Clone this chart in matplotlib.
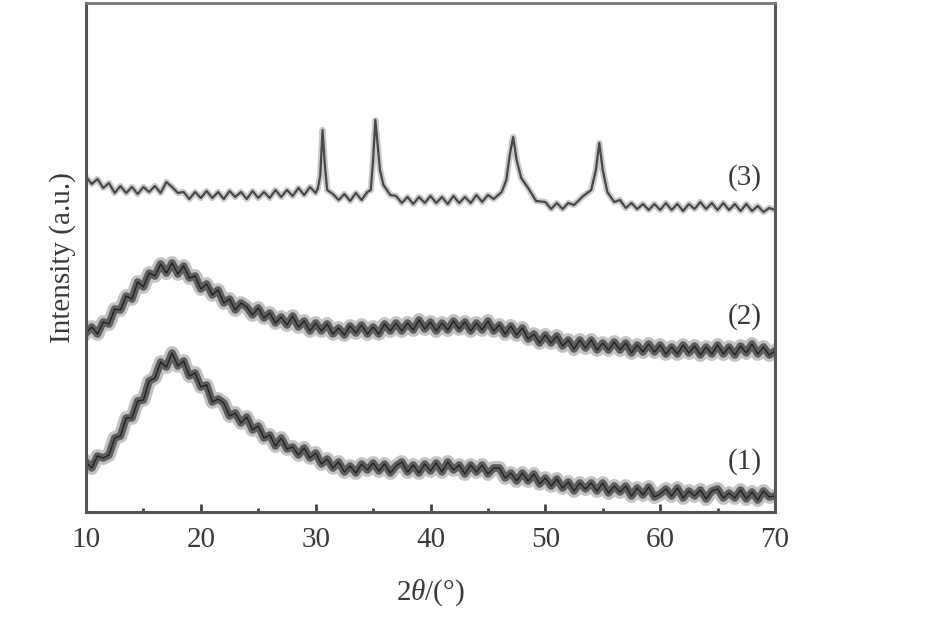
import numpy as np
import matplotlib
matplotlib.use("Agg")
import matplotlib.pyplot as plt

plt.rcParams['font.family'] = ['Liberation Serif', 'DejaVu Serif']
plt.rcParams['mathtext.fontset'] = 'custom'
plt.rcParams['mathtext.rm'] = 'Liberation Serif'
plt.rcParams['mathtext.it'] = 'Liberation Serif:italic'

# ---- data (intensity in arbitrary units) ----
two_theta = np.arange(10.0, 70.01, 0.5)  # scan positions for patterns (1) and (2)

pattern1 = [50, 44, 56, 54, 57, 74, 76, 94, 94, 111,
            112, 131, 134, 150, 145, 159, 146, 151, 136, 139,
            125, 127, 110, 113, 109, 96, 99, 89, 95, 82,
            86, 74, 77, 66, 74, 63, 65, 57, 64, 54,
            59, 48, 53, 44, 50, 40, 46, 39, 48, 42,
            49, 41, 48, 39, 46, 50, 40, 47, 39, 48,
            41, 49, 40, 50, 42, 47, 38, 47, 40, 47,
            38, 44, 44, 34, 39, 31, 39, 31, 38, 28,
            34, 26, 33, 24, 30, 21, 29, 23, 29, 21,
            29, 19, 26, 20, 26, 16, 24, 17, 25, 15,
            18, 23, 16, 24, 14, 21, 16, 22, 13, 21,
            23, 14, 19, 14, 22, 13, 20, 12, 21, 15,
            16]

pattern2 = [179, 185, 178, 190, 188, 203, 202, 216, 213, 230,
            225, 239, 236, 248, 239, 249, 238, 246, 234, 236,
            223, 228, 217, 222, 209, 213, 202, 209, 205, 197,
            204, 194, 199, 189, 195, 187, 196, 185, 191, 181,
            189, 181, 188, 178, 184, 177, 186, 179, 187, 178,
            185, 178, 188, 181, 189, 181, 189, 182, 192, 183,
            190, 181, 189, 182, 191, 183, 190, 181, 189, 182,
            191, 181, 187, 178, 186, 177, 184, 173, 178, 169,
            177, 169, 176, 166, 172, 163, 172, 164, 172, 162,
            169, 162, 170, 162, 169, 159, 167, 160, 168, 160,
            167, 158, 165, 158, 167, 159, 166, 157, 165, 158,
            167, 158, 165, 157, 166, 159, 168, 158, 165, 157,
            161]

two_theta3 = [10.0, 10.5, 11.0, 11.5, 12.0, 12.5, 13.0, 13.5, 14.0, 14.5,
              15.0, 15.5, 16.0, 16.5, 17.0, 17.5, 18.0, 18.5, 19.0, 19.5,
              20.0, 20.5, 21.0, 21.5, 22.0, 22.5, 23.0, 23.5, 24.0, 24.5,
              25.0, 25.5, 26.0, 26.5, 27.0, 27.5, 28.0, 28.5, 29.0, 29.5,
              30.0, 30.2, 30.4, 30.6, 30.8, 31.0, 31.5, 32.0, 32.5, 33.0,
              33.5, 34.0, 34.5, 34.8, 35.0, 35.2, 35.4, 35.6, 35.9, 36.5,
              37.0, 37.5, 38.0, 38.5, 39.0, 39.5, 40.0, 40.5, 41.0, 41.5,
              42.0, 42.5, 43.0, 43.5, 44.0, 44.5, 45.0, 45.5, 46.2, 46.6,
              46.9, 47.2, 47.5, 47.9, 48.5, 49.2, 50.0, 50.5, 51.0, 51.5,
              52.0, 52.5, 53.3, 54.0, 54.4, 54.7, 55.0, 55.4, 56.0, 56.5,
              57.0, 57.5, 58.0, 58.5, 59.0, 59.5, 60.0, 60.5, 61.0, 61.5,
              62.0, 62.5, 63.0, 63.5, 64.0, 64.5, 65.0, 65.5, 66.0, 66.5,
              67.0, 67.5, 68.0, 68.5, 69.0, 69.5, 70.0]

pattern3 = [335, 328, 333, 324, 329, 319, 326, 319, 325, 318,
            325, 320, 326, 319, 330, 325, 319, 320, 313, 320,
            314, 321, 314, 320, 313, 321, 315, 320, 313, 321,
            314, 320, 314, 322, 315, 322, 316, 324, 317, 325,
            319, 324, 337, 382, 347, 322, 318, 312, 318, 311,
            319, 312, 320, 322, 352, 392, 367, 342, 327, 317,
            316, 309, 315, 308, 315, 309, 316, 309, 315, 308,
            316, 309, 315, 309, 317, 310, 317, 313, 320, 332,
            357, 375, 352, 334, 324, 311, 310, 303, 309, 303,
            309, 307, 316, 322, 342, 369, 342, 320, 310, 312,
            304, 309, 303, 308, 302, 308, 302, 309, 302, 308,
            301, 308, 303, 310, 303, 309, 302, 309, 302, 308,
            301, 308, 301, 306, 300, 304, 302]

curve_labels = ["(1)", "(2)", "(3)"]
label_x = [67.4, 67.4, 67.4]
label_y = [50, 195, 334]

xticks = [10, 20, 30, 40, 50, 60, 70]
xtick_labels = ["10", "20", "30", "40", "50", "60", "70"]

# ---- figure ----
W, H = 935, 618
fig = plt.figure(figsize=(W / 100, H / 100), dpi=100)
ax = fig.add_axes([86 / W, (H - 512) / H, (775 - 86) / W, (512 - 3) / H])

for p in (pattern1, pattern2):
    ax.plot(two_theta, p, color='#555555', lw=10.0, alpha=0.35, solid_joinstyle='round')
    ax.plot(two_theta, p, color='#333333', lw=5.5, alpha=0.7, solid_joinstyle='round')
    ax.plot(two_theta, p, color='#222222', lw=1.0)
ax.plot(two_theta3, pattern3, color='#666666', lw=4.5, alpha=0.35)
ax.plot(two_theta3, pattern3, color='#3a3a3a', lw=1.6, alpha=0.9)

for t, lx, ly in zip(curve_labels, label_x, label_y):
    ax.text(lx, ly, t, fontsize=21, color='#3a3a3a', ha='center', va='center')

ax.set_xlim(10, 70)
ax.set_ylim(0, 509)
ax.set_xticks(xticks)
ax.set_xticklabels(xtick_labels)
ax.set_xticks([15, 25, 35, 45, 55, 65], minor=True)
ax.set_yticks([])
ax.tick_params(axis='x', which='major', direction='in', length=6, width=2,
               color='#444444', labelsize=21, labelcolor='#3a3a3a', pad=11)
ax.tick_params(axis='x', which='minor', direction='in', length=3, width=2,
               color='#444444')

for side in ['left', 'bottom', 'right']:
    ax.spines[side].set_linewidth(2.2)
    ax.spines[side].set_color('#555555')
ax.spines['top'].set_linewidth(2.0)
ax.spines['top'].set_color('#777777')

ax.set_xlabel(r'2$\theta$/(°)', fontsize=21, color='#3a3a3a', labelpad=17)
ax.set_ylabel('Intensity (a.u.)', fontsize=21, color='#3a3a3a', labelpad=7)

fig.savefig('out.png', dpi=100)
